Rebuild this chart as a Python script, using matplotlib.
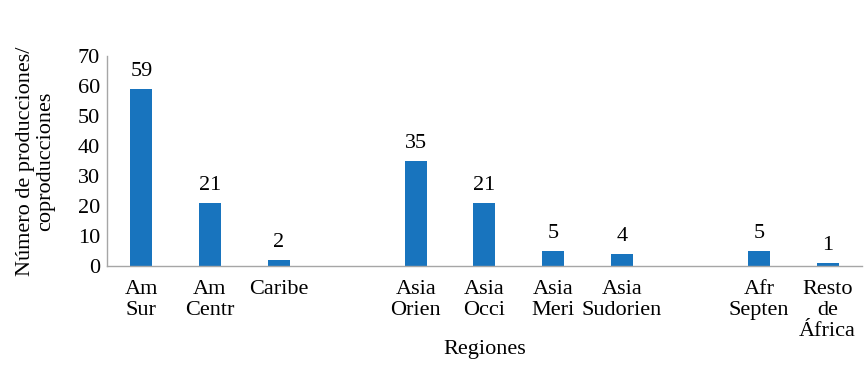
import matplotlib
matplotlib.use("Agg")
import matplotlib.pyplot as plt

plt.rcParams['font.family'] = ['Liberation Serif', 'DejaVu Serif']

categories = ["Am\nSur", "Am\nCentr", "Caribe",
              "Asia\nOrien", "Asia\nOcci", "Asia\nMeri", "Asia\nSudorien",
              "Afr\nSepten", "Resto\nde\nÁfrica"]
values = [59, 21, 2, 35, 21, 5, 4, 5, 1]
group_sizes = [3, 4, 2]

# positions with an empty slot between groups
positions = []
p = 0
for g in group_sizes:
    for _ in range(g):
        positions.append(p)
        p += 1
    p += 1

fig = plt.figure(figsize=(8.68, 3.73), dpi=100)
ax = fig.add_axes([0.1233, 0.2869, 0.993 - 0.1233, 0.8499 - 0.2869])

bar_color = '#1874BE'
ax.bar(positions, values, width=0.32, color=bar_color, zorder=2)
for x, v in zip(positions, values):
    ax.annotate(str(v), (x, v), xytext=(0, 6), textcoords='offset points',
                ha='center', va='bottom', fontsize=16)

ax.set_xlim(-0.5, positions[-1] + 0.5)
ax.set_ylim(0, 70)
ax.set_yticks(range(0, 71, 10))
ax.set_xticks(positions)
ax.set_xticklabels(categories, fontsize=16, linespacing=1.15, va='top')
ax.tick_params(axis='x', length=0, pad=10)
ax.tick_params(axis='y', length=0, pad=5, labelsize=16)

for s in ['top', 'right']:
    ax.spines[s].set_visible(False)
for s in ['left', 'bottom']:
    ax.spines[s].set_color('#a6a6a6')
    ax.spines[s].set_linewidth(1.0)

ax.set_ylabel("Número de producciones/\ncoproducciones", fontsize=16, linespacing=1.1, labelpad=16)
ax.set_xlabel("Regiones", fontsize=16, labelpad=-1)

fig.savefig("out.png", dpi=100)
